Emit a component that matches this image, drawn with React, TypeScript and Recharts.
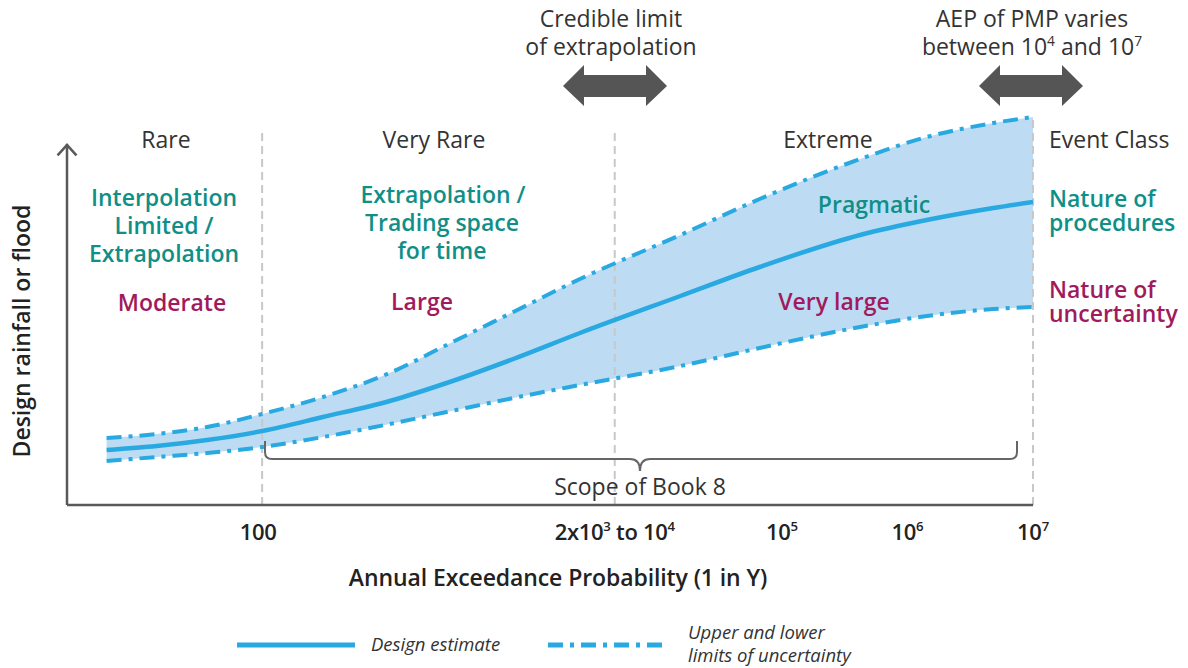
import React from 'react';
import { ComposedChart, Area, Line, XAxis, YAxis, ReferenceLine } from 'recharts';

// conceptual curve, x 0..100 across the AEP axis, y 0..100 rainfall/flood
const xPos = [4.1, 9.3, 14.5, 20.2, 26.5, 33.4, 39.3, 46.2, 53.1, 63.5, 71.7, 82.1, 89.0, 95.9, 100];
const designEstimate = [13.75, 14.75, 16.25, 18.5, 22, 26, 30.5, 36.5, 43, 52.25, 59.5, 67.5, 71.25, 74.25, 75.75];
const upperLimit = [16.75, 17.75, 19.5, 22.75, 27, 33, 40, 48.25, 56.5, 67.5, 76.5, 86.5, 92, 95.5, 97];
const lowerLimit = [11, 12, 13, 14.5, 17, 20.25, 23.25, 26.75, 30, 34.75, 39.25, 44.5, 47.25, 49, 49.5];

const tickValues = [20.2, 56.7, 74, 87, 100];
const tickLabels = ['100', '2x10^3 to 10^4', '10^5', '10^6', '10^7'];
const classBounds = [20.2, 56.7, 100];

const FONT = "'Open Sans', sans-serif";
const BLUE = '#29a9e1';
const BAND = '#bddcf3';
const TEAL = '#0f8f87';
const PLUM = '#a11a5d';
const INK = '#333333';
const AXIS = '#595959';

const rows = xPos.map((x, i) => ({
  x,
  design: designEstimate[i],
  upper: upperLimit[i],
  lower: lowerLimit[i],
  band: [lowerLimit[i], upperLimit[i]],
}));

// "10^5" -> 10 with a raised 5
const supSpans = (label: string, size: number) => {
  const parts = label.split(/\^(\d)/);
  const out: React.ReactNode[] = [];
  let raised = false;
  parts.forEach((p, i) => {
    if (!p) return;
    if (i % 2 === 1) {
      out.push(<tspan key={i} dy={-size * 0.4} fontSize={size * 0.6}>{p}</tspan>);
      raised = true;
    } else {
      out.push(<tspan key={i} dy={raised ? size * 0.4 : 0}>{p}</tspan>);
      raised = false;
    }
  });
  return out;
};

const AepTick = (props: any) => {
  const { x, y, payload } = props;
  const i = tickValues.indexOf(payload.value);
  return (
    <text x={x - (i === 0 ? 4 : 0)} y={y + 33} textAnchor="middle" fontFamily={FONT} fontWeight={600}
      fontSize={22} fill="#222" letterSpacing={-0.3}>
      {supSpans(tickLabels[i] ?? '', 22)}
    </text>
  );
};

const DoubleArrow = ({ cx }: { cx: number }) => (
  <polygon
    fill="#555"
    points={[
      [cx - 52, 86], [cx - 31, 65], [cx - 31, 75], [cx + 31, 75], [cx + 31, 65],
      [cx + 52, 86], [cx + 31, 106], [cx + 31, 97], [cx - 31, 97], [cx - 31, 106],
    ].map((p) => p.join(',')).join(' ')}
  />
);

const T = (p: any) => <text fontFamily={FONT} fontSize={23} fill={INK} textAnchor="middle" {...p} />;
const B = (p: any) => <text fontFamily={FONT} fontSize={23} fontWeight={600} textAnchor="middle" {...p} />;

export default function App() {
  return (
    <div style={{ position: 'absolute', left: 0, top: 0, width: 1188, height: 668, background: '#fff', fontFamily: FONT }}>
      <ComposedChart width={1188} height={668} data={rows} margin={{ top: 105, right: 155, bottom: 123, left: 67 }}>
        <XAxis dataKey="x" type="number" domain={[0, 100]} ticks={tickValues} interval={0} tickLine={false}
          tickSize={0} height={40} axisLine={{ stroke: AXIS, strokeWidth: 2.5 }} tick={<AepTick />} allowDataOverflow />
        <YAxis type="number" domain={[0, 100]} hide allowDataOverflow />
        <Area dataKey="band" type="monotone" fill={BAND} fillOpacity={1} stroke="none" isAnimationActive={false} />
        {classBounds.map((b) => (
          <ReferenceLine key={b} segment={[{ x: b, y: 0 }, { x: b, y: b === 100 ? 97 : 94.25 }]}
            stroke="#c8c8c8" strokeWidth={2} strokeDasharray="8 5" ifOverflow="visible" />
        ))}
        <ReferenceLine segment={[{ x: 0, y: 0 }, { x: 0, y: 90 }]} stroke={AXIS} strokeWidth={2.5} ifOverflow="visible" />
        <ReferenceLine segment={[{ x: -0.98, y: 87.4 }, { x: 0.08, y: 90.2 }]} stroke={AXIS} strokeWidth={2.5} ifOverflow="visible" />
        <ReferenceLine segment={[{ x: -0.08, y: 90.2 }, { x: 0.98, y: 87.4 }]} stroke={AXIS} strokeWidth={2.5} ifOverflow="visible" />
        <Line dataKey="upper" type="monotone" stroke={BLUE} strokeWidth={4} strokeDasharray="15 7 4 7" dot={false} isAnimationActive={false} />
        <Line dataKey="lower" type="monotone" stroke={BLUE} strokeWidth={4} strokeDasharray="15 7 4 7" dot={false} isAnimationActive={false} />
        <Line dataKey="design" type="monotone" stroke={BLUE} strokeWidth={4.5} dot={false} isAnimationActive={false} />
      </ComposedChart>

      <svg width={1188} height={668} style={{ position: 'absolute', left: 0, top: 0, pointerEvents: 'none' }}>
        {/* top annotations */}
        <T x={611} y={27}>Credible limit</T>
        <T x={611} y={55}>of extrapolation</T>
        <DoubleArrow cx={615} />
        <T x={1032} y={27}>AEP of PMP varies</T>
        <T x={1032} y={55}>{supSpans('between 10^4 and 10^7', 23)}</T>
        <DoubleArrow cx={1031} />

        {/* event classes */}
        <T x={166} y={148}>Rare</T>
        <T x={434} y={148}>Very Rare</T>
        <T x={828} y={148}>Extreme</T>
        <T x={1049} y={148} textAnchor="start">Event Class</T>

        <B x={164} y={206} fill={TEAL}>Interpolation</B>
        <B x={164} y={234} fill={TEAL}>Limited /</B>
        <B x={164} y={262} fill={TEAL}>Extrapolation</B>
        <B x={172} y={311} fill={PLUM}>Moderate</B>

        <B x={443} y={203} fill={TEAL}>Extrapolation /</B>
        <B x={442} y={231} fill={TEAL}>Trading space</B>
        <B x={442} y={259} fill={TEAL}>for time</B>
        <B x={422} y={310} fill={PLUM}>Large</B>

        <B x={874} y={213} fill={TEAL}>Pragmatic</B>
        <B x={834} y={310} fill={PLUM}>Very large</B>

        <B x={1049} y={207} fill={TEAL} textAnchor="start">Nature of</B>
        <B x={1049} y={231} fill={TEAL} textAnchor="start">procedures</B>
        <B x={1049} y={298} fill={PLUM} textAnchor="start">Nature of</B>
        <B x={1049} y={322} fill={PLUM} textAnchor="start">uncertainty</B>

        {/* scope bracket */}
        <path d="M265,441 L265,452 Q265,459 272,459 L630,459 Q640,459 640,471 Q640,459 650,459 L1010,459 Q1017,459 1017,452 L1017,441"
          fill="none" stroke="#666" strokeWidth={2} />
        <T x={640} y={495}>Scope of Book 8</T>

        {/* axis titles */}
        <text transform="translate(30,331) rotate(-90)" textAnchor="middle" fontFamily={FONT} fontSize={23}
          fontWeight={600} fill="#222">Design rainfall or flood</text>
        <text x={558} y={586} textAnchor="middle" fontFamily={FONT} fontSize={23} fontWeight={600} fill="#222"
          letterSpacing={-0.1}>Annual Exceedance Probability (1 in Y)</text>

        {/* legend */}
        <line x1={237} y1={645} x2={355} y2={645} stroke={BLUE} strokeWidth={5} />
        <text x={371} y={651} fontFamily={FONT} fontSize={18.5} fontStyle="italic" fill={INK}>Design estimate</text>
        <line x1={548} y1={645} x2={668} y2={645} stroke={BLUE} strokeWidth={5} strokeDasharray="15 7 4 7" />
        <text x={688} y={639} fontFamily={FONT} fontSize={18.5} fontStyle="italic" fill={INK}>Upper and lower</text>
        <text x={688} y={662} fontFamily={FONT} fontSize={18.5} fontStyle="italic" fill={INK}>limits of uncertainty</text>
      </svg>
    </div>
  );
}
